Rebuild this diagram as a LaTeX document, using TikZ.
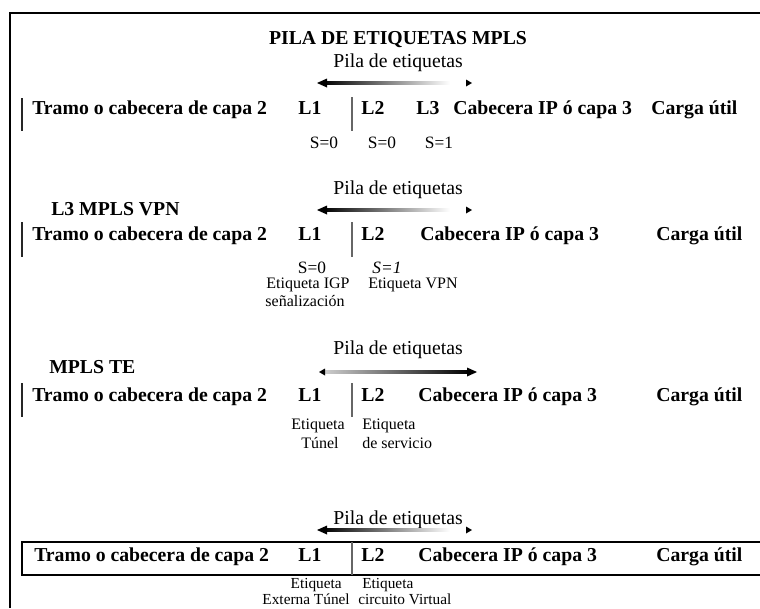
\documentclass[tikz,border=0pt]{standalone}
\usepackage{fontspec}
\setmainfont{Liberation Serif}
\usetikzlibrary{calc}

\begin{document}
\begin{tikzpicture}[
    x=0.75pt, y=-0.75pt,
    % Styles for the frames and fields
    marco/.style={line width=2pt, draw=black},
    barra/.style={line width=1.8pt, draw=black!85},
    sep/.style={line width=0.8pt, draw=black!60},
    campo/.style={inner sep=0pt, anchor=mid west, font=\bfseries\fontsize{14.8}{16}\selectfont},
    etiq/.style={inner sep=0pt, anchor=mid, font=\bfseries\fontsize{14.8}{16}\selectfont},
    pilatxt/.style={inner sep=0pt, font=\fontsize{14.8}{16}\selectfont},
    bit/.style={inner sep=0pt, font=\fontsize{13}{14}\selectfont},
    nota/.style={inner sep=0pt, font=\fontsize{12}{13}\selectfont},
    punta/.style={fill=black}
]
    \useasboundingbox (0,0) rectangle (760,608);

    % Outer frame (cut at the right and bottom)
    \draw[marco] (10,608) -- (10,13) -- (760,13);

    \node[inner sep=0pt, font=\bfseries\fontsize{14.8}{16}\selectfont] (titulo) at (398,40) {PILA DE ETIQUETAS MPLS};

    % =========================================================================
    % 1. PILA CON TRES ETIQUETAS
    % =========================================================================
    \begin{scope}[shift={(0,111)}]
        \node[pilatxt] (pila1) at (398,-48) {Pila de etiquetas};
        % Arrow of the stack
        \coordinate (p1a) at (317,-28);
        \coordinate (p1b) at (472,-28);
        \shade[left color=black, right color=white] ($(p1a)+(6,-1.1)$) rectangle ($(p1b)+(-22,1.1)$);
        \fill[punta] (p1a) -- ++(10,-4.5) -- ++(0,9) -- cycle;
        \fill[punta] (p1b) -- ++(-6,-3.5) -- ++(0,7) -- cycle;

        \draw[barra] (22,-13) -- (22,20);
        \node[campo] (tr1) at (32,0) {Tramo o cabecera de capa 2};
        \node[etiq] (l11) at (310,0) {L1};
        \draw[sep] (352,-14) -- (352,20);
        \node[etiq] (l12) at (373,0) {L2};
        \node[etiq] (l13) at (428,0) {L3};
        \node[campo] (ip1) at (453,0) {Cabecera IP ó capa 3};
        \node[campo] (cu1) at (651,0) {Carga útil};

        \node[bit] (s11) at (324,32) {S=0};
        \node[bit] (s12) at (382,32) {S=0};
        \node[bit] (s13) at (439,32) {S=1};
    \end{scope}

    % =========================================================================
    % 2. L3 MPLS VPN
    % =========================================================================
    \begin{scope}[shift={(0,237)}]
        \node[pilatxt] (pila2) at (398,-47) {Pila de etiquetas};
        \node[campo] (vpn) at (51,-25) {L3 MPLS VPN};
        \coordinate (p2a) at (317,-27);
        \coordinate (p2b) at (472,-27);
        \shade[left color=black, right color=white] ($(p2a)+(6,-1.1)$) rectangle ($(p2b)+(-22,1.1)$);
        \fill[punta] (p2a) -- ++(10,-4.5) -- ++(0,9) -- cycle;
        \fill[punta] (p2b) -- ++(-6,-3.5) -- ++(0,7) -- cycle;

        \draw[barra] (22,-15) -- (22,20);
        \node[campo] (tr2) at (32,0) {Tramo o cabecera de capa 2};
        \node[etiq] (l21) at (310,0) {L1};
        \draw[sep] (352,-15) -- (352,20);
        \node[etiq] (l22) at (373,0) {L2};
        \node[campo] (ip2) at (420,0) {Cabecera IP ó capa 3};
        \node[campo] (cu2) at (656,0) {Carga útil};

        \node[bit] (s21) at (312,31) {S=0};
        \node[bit] (s22) at (387,31) {\itshape S=1};
        \node[nota] (e21) at (308,48) {Etiqueta IGP};
        \node[nota, anchor=west] (e22) at (368,48) {Etiqueta VPN};
        \node[nota] (e23) at (305,64) {señalización};
    \end{scope}

    % =========================================================================
    % 3. MPLS TE
    % =========================================================================
    \begin{scope}[shift={(0,398)}]
        \node[pilatxt] (pila3) at (398,-48) {Pila de etiquetas};
        \node[campo] (te) at (49,-28) {MPLS TE};
        \coordinate (p3a) at (319,-26);
        \coordinate (p3b) at (477,-26);
        \shade[left color=white!80!black, right color=black] ($(p3a)+(6,-1.1)$) rectangle ($(p3b)+(-8,1.1)$);
        \fill[punta] (p3a) -- ++(6,-3.5) -- ++(0,7) -- cycle;
        \fill[punta] (p3b) -- ++(-10,-4.5) -- ++(0,9) -- cycle;

        \draw[barra] (22,-15) -- (22,19);
        \node[campo] (tr3) at (32,0) {Tramo o cabecera de capa 2};
        \node[etiq] (l31) at (310,0) {L1};
        \draw[sep] (352,-15) -- (352,19);
        \node[etiq] (l32) at (373,0) {L2};
        \node[campo] (ip3) at (418,0) {Cabecera IP ó capa 3};
        \node[campo] (cu3) at (656,0) {Carga útil};

        \node[nota] (e31) at (318,28) {Etiqueta};
        \node[nota] (e32) at (320,45) {Túnel};
        \node[nota, anchor=west] (e33) at (362,28) {Etiqueta};
        \node[nota, anchor=west] (e34) at (362,45) {de servicio};
    \end{scope}

    % =========================================================================
    % 4. TRAMA COMPLETA
    % =========================================================================
    \begin{scope}[shift={(0,558)}]
        \node[pilatxt] (pila4) at (398,-38) {Pila de etiquetas};
        \coordinate (p4a) at (317,-28);
        \coordinate (p4b) at (472,-28);
        \shade[left color=black, right color=white] ($(p4a)+(6,-1.1)$) rectangle ($(p4b)+(-22,1.1)$);
        \fill[punta] (p4a) -- ++(10,-4.5) -- ++(0,9) -- cycle;
        \fill[punta] (p4b) -- ++(-6,-3.5) -- ++(0,7) -- cycle;

        \draw[marco] (760,-16) -- (22,-16) -- (22,17) -- (760,17);
        \node[campo] (tr4) at (34,0) {Tramo o cabecera de capa 2};
        \node[etiq] (l41) at (310,0) {L1};
        \draw[sep] (352,-16) -- (352,17);
        \node[etiq] (l42) at (373,0) {L2};
        \node[campo] (ip4) at (418,0) {Cabecera IP ó capa 3};
        \node[campo] (cu4) at (656,0) {Carga útil};

        \node[nota, anchor=east, font=\fontsize{11.5}{12}\selectfont] (e41) at (342,27) {Etiqueta};
        \node[nota, anchor=east, font=\fontsize{11.5}{12}\selectfont] (e42) at (350,41) {Externa Túnel};
        \node[nota, anchor=west, font=\fontsize{11.5}{12}\selectfont] (e43) at (362,27) {Etiqueta};
        \node[nota, anchor=west, font=\fontsize{11.5}{12}\selectfont] (e44) at (358,41) {circuito Virtual};
    \end{scope}

\end{tikzpicture}
\end{document}
